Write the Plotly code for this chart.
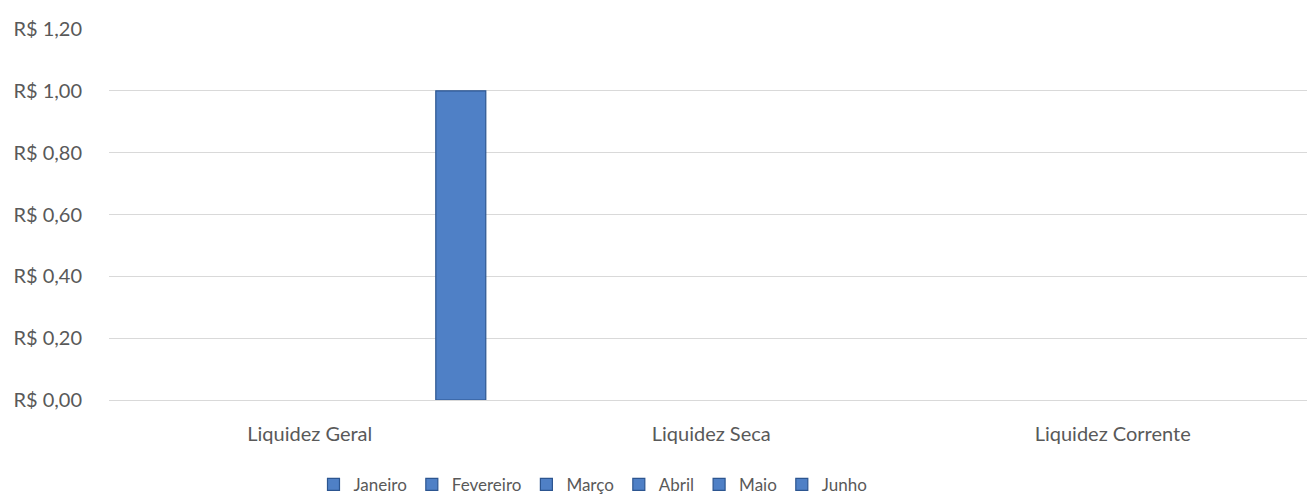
import plotly.graph_objects as go

categories = ["Liquidez Geral", "Liquidez Seca", "Liquidez Corrente"]
months = ["Janeiro", "Fevereiro", "Março", "Abril", "Maio", "Junho"]
janeiro = [None, None, None]
fevereiro = [None, None, None]
marco = [None, None, None]
abril = [None, None, None]
maio = [None, None, None]
junho = [1.00, None, None]
series = [janeiro, fevereiro, marco, abril, maio, junho]
tick_vals = [0, 0.2, 0.4, 0.6, 0.8, 1.0, 1.2]
tick_text = ["R$ 0,00", "R$ 0,20", "R$ 0,40", "R$ 0,60", "R$ 0,80", "R$ 1,00", "R$ 1,20"]

bar_w = 0.1245
start = -0.3085
fill = "#4f80c6"
edge = "#2c5590"

fig = go.Figure()
for i, (name, vals) in enumerate(zip(months, series)):
    fig.add_trace(go.Bar(
        x=categories, y=vals, name=name,
        width=bar_w, offset=start + i * bar_w,
        marker=dict(color=fill, line=dict(color=edge, width=1.2)),
    ))

font_family = "Lato, 'Open Sans', sans-serif"
fig.update_layout(
    width=1307, height=495,
    autosize=False,
    barmode="overlay",
    paper_bgcolor="white", plot_bgcolor="white",
    margin=dict(l=109, r=0, t=29, b=95, autoexpand=False),
    font=dict(family=font_family, size=20, color="#595959"),
    xaxis=dict(
        type="category", range=[-0.5, 2.484], showgrid=False, automargin=False,
        showline=False, zeroline=False, ticks="outside", ticklen=16,
        tickcolor="rgba(0,0,0,0)",
        tickfont=dict(size=20, color="#595959"),
    ),
    yaxis=dict(
        range=[0, 1.2], tickvals=tick_vals, ticktext=tick_text, automargin=False,
        showgrid=True, gridcolor="#d9d9d9", gridwidth=1.3,
        zeroline=True, zerolinecolor="#d9d9d9", zerolinewidth=1.3,
        showline=False, ticks="outside", ticklen=22, tickcolor="rgba(0,0,0,0)",
        tickfont=dict(size=20, color="#595959"),
    ),
    legend=dict(
        orientation="h", x=0.404, xanchor="center", y=-0.18, yanchor="top",
        font=dict(size=17, color="#595959"), itemwidth=30,
        traceorder="normal",
    ),
    showlegend=True,
)

fig.write_html(
    "out.html",
    config={"displayModeBar": False},
    post_script="document.body.style.margin='0';document.body.style.padding='0';",
)
